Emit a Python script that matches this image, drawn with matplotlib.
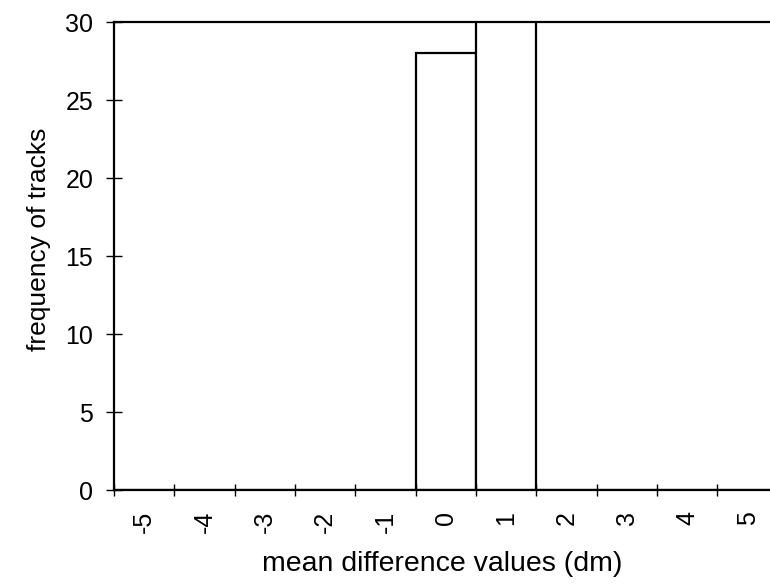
import numpy as np
import matplotlib.pyplot as plt
from matplotlib.ticker import MultipleLocator

# read data
bins = [-5, -4, -3, -2, -1, 0, 1, 2, 3, 4, 5]
counts = [0, 0, 0, 0, 0, 28, 44, 0, 0, 0, 0]
y_ticks = [0, 5, 10, 15, 20, 25, 30]

plt.rcParams["font.family"] = ["Liberation Sans", "DejaVu Sans"]

fig = plt.figure(figsize=(7.7, 5.87), dpi=100)
ax = fig.add_axes([0.148, 0.165, 0.852, 0.7975])

ax.bar(bins, counts, width=1.0, color="white", edgecolor="black", linewidth=1.6)

ax.set_xlim(-5.5, 5.37)
ax.set_ylim(0, 30)

# spines
for side in ["left", "top", "bottom"]:
    ax.spines[side].set_linewidth(1.6)
ax.spines["right"].set_visible(False)

# y ticks
ax.set_yticks(y_ticks)
ax.tick_params(axis="y", direction="inout", length=12, width=1.0, labelsize=18, pad=9)

# x ticks: labels at integers, tick marks at bin edges
ax.set_xticks(bins)
ax.set_xticklabels([str(b) for b in bins], rotation=90)
ax.xaxis.set_minor_locator(MultipleLocator(1.0, offset=0.5))
ax.tick_params(axis="x", which="major", length=0, labelsize=18, pad=15)
ax.tick_params(axis="x", which="minor", direction="inout", length=8, width=1.0)

ax.set_xlabel("mean difference values (dm)", fontsize=20.5, labelpad=13)
ax.set_ylabel("frequency of tracks", fontsize=19, labelpad=10, y=0.535)

fig.savefig("out.png", dpi=100)
